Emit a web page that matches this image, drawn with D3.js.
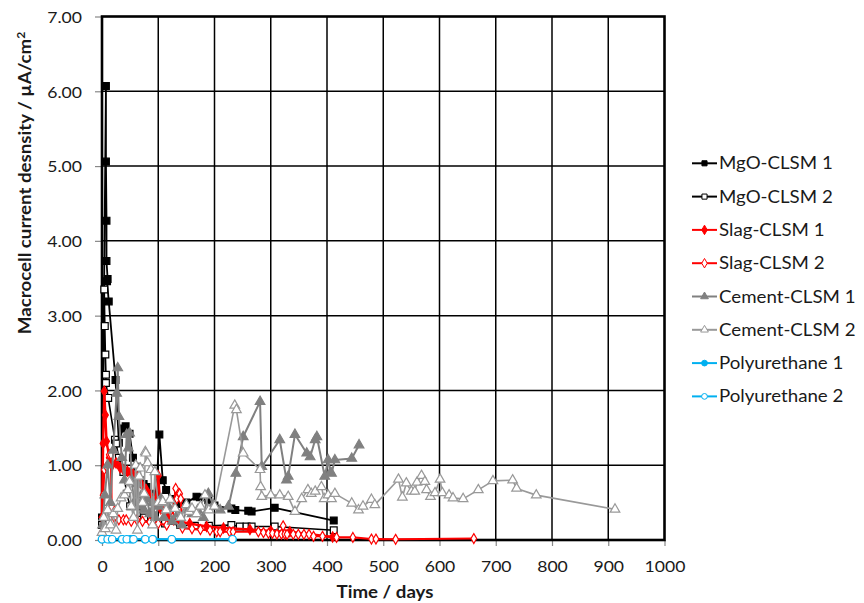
<!DOCTYPE html>
<html><head><meta charset="utf-8">
<script src="https://cdn.jsdelivr.net/npm/d3@7"></script>
<style>
body{margin:0;background:#fff}
svg{display:block}
text{font-family:Lato,"Open Sans",sans-serif;fill:#1a1a1a}
</style>
</head><body>
<svg id="chart" width="864" height="603"></svg>
<script>
// ---------- data (day, current density µA/cm²) ----------
const xTicks = [0,100,200,300,400,500,600,700,800,900,1000];
const yTicks = [0,1,2,3,4,5,6,7];
const seriesNames = ["MgO-CLSM 1","MgO-CLSM 2","Slag-CLSM 1","Slag-CLSM 2","Cement-CLSM 1","Cement-CLSM 2","Polyurethane 1","Polyurethane 2"];

const mgo1 = [[0,0.3],[7,6.07],[7,5.06],[8,4.27],[8,3.73],[10,3.49],[9,3.46],[12,3.19],[24,2.14],[30,1.3],[37,1.49],[42,1.52],[49,1.42],[55,1.1],[62,0.98],[67,0.8],[74,0.75],[79,0.71],[88,0.62],[96,0.6],[102,1.41],[108,0.8],[114,0.67],[125,0.55],[134,0.48],[150,0.5],[168,0.58],[174,0.57],[189,0.53],[200,0.46],[230,0.42],[237,0.4],[260,0.39],[266,0.38],[307,0.43],[412,0.26]];
const mgo2 = [[0,0.2],[4,3.35],[5,2.86],[6,2.48],[7,2.21],[7,2.1],[11,1.9],[23,1.34],[25,1.29],[30,1.1],[38,0.91],[44,0.62],[50,0.45],[62,0.36],[75,0.3],[90,0.25],[112,0.22],[139,0.2],[165,0.19],[190,0.19],[230,0.2],[245,0.18],[257,0.18],[266,0.18],[307,0.18],[412,0.13]];
const slag1 = [[0,0.3],[2,1.29],[4,1.99],[6,1.67],[8,1.32],[13,1.1],[18,1.0],[25,1.03],[32,0.97],[38,0.94],[45,0.92],[50,0.9],[55,0.88],[62,0.85],[65,0.8],[70,0.75],[75,0.7],[79,0.67],[85,0.6],[90,0.55],[95,0.5],[100,0.86],[104,0.42],[110,0.38],[115,0.35],[120,0.3],[127,0.27],[140,0.24],[156,0.22],[186,0.18],[216,0.16],[263,0.14],[300,0.12],[334,0.11],[410,0.04]];
const slag2 = [[0,0.1],[2,0.6],[4,0.94],[8,0.98],[13,1.14],[16,1.14],[17,0.45],[22,0.3],[30,0.27],[38,0.27],[43,0.27],[52,0.25],[62,0.27],[72,0.25],[85,0.24],[100,0.22],[115,0.2],[125,0.3],[131,0.69],[133,0.55],[138,0.62],[140,0.55],[143,0.16],[160,0.15],[175,0.14],[192,0.13],[204,0.11],[210,0.11],[227,0.11],[233,0.11],[278,0.11],[287,0.1],[296,0.09],[303,0.09],[311,0.08],[319,0.08],[322,0.19],[325,0.08],[329,0.076],[340,0.076],[349,0.076],[359,0.076],[368,0.076],[376,0.05],[392,0.05],[417,0.035],[446,0.035],[479,0.013],[487,0.013],[522,0.01],[661,0.02]];
const cement1 = [[1,0.2],[5,0.6],[10,1.0],[15,0.5],[20,1.2],[26,1.96],[28,2.3],[30,1.65],[35,1.1],[40,0.8],[44,1.41],[47,1.23],[49,1.43],[53,0.8],[57,0.5],[62,0.75],[66,0.45],[70,0.6],[75,0.4],[80,0.55],[85,0.35],[90,0.5],[95,0.3],[100,0.45],[105,0.55],[110,0.3],[118,0.45],[125,0.25],[135,0.35],[142,0.2],[150,0.4],[160,0.35],[170,0.4],[180,0.3],[189,0.62],[198,0.47],[210,0.4],[225,0.45],[238,0.89],[251,1.38],[281,1.85],[284,0.98],[316,1.34],[328,0.8],[331,0.85],[343,1.41],[364,1.16],[370,1.11],[379,1.34],[382,1.38],[396,0.85],[402,1.07],[406,0.9],[408,0.89],[414,1.07],[444,1.09],[457,1.27]];
const cement2 = [[0,0.1],[3,0.3],[6,0.15],[10,0.4],[15,0.2],[20,0.35],[25,0.13],[28,0.42],[34,0.56],[40,0.6],[46,0.67],[49,0.78],[52,0.45],[56,0.3],[60,1.0],[63,0.13],[66,0.85],[68,0.96],[72,0.5],[75,0.62],[77,1.18],[78,1.16],[81,1.03],[87,0.94],[90,0.2],[94,0.91],[100,0.5],[108,0.51],[114,0.4],[121,0.54],[130,0.42],[140,0.3],[150,0.47],[155,0.38],[160,0.42],[168,0.35],[175,0.45],[183,0.6],[190,0.4],[200,0.45],[236,1.8],[239,1.74],[251,1.16],[281,0.94],[282,0.71],[284,0.58],[300,0.6],[316,0.6],[331,0.58],[343,0.38],[355,0.55],[366,0.67],[372,0.62],[379,0.65],[390,0.71],[395,0.55],[402,0.6],[408,0.55],[414,0.62],[444,0.49],[456,0.4],[464,0.45],[479,0.54],[485,0.47],[527,0.81],[534,0.57],[541,0.76],[550,0.65],[556,0.65],[560,0.77],[568,0.86],[574,0.78],[577,0.67],[584,0.58],[592,0.63],[601,0.81],[605,0.63],[617,0.6],[624,0.56],[642,0.55],[669,0.67],[695,0.79],[730,0.8],[737,0.69],[772,0.6],[912,0.41]];
const pu1 = [[0,0.01],[14,0.01],[35,0.01],[50,0.01],[54,0.01],[76,0.01],[91,0.01],[124,0.01],[232,0.01]];
const pu2 = [[0,0.01],[10,0.01],[18,0.01],[36,0.01],[44,0.01],[56,0.01],[77,0.01],[90,0.01],[124,0.01],[232,0.01]];

// ---------- layout ----------
const SX = 1.1; // horizontal text stretch
const svg = d3.select("#chart");
const x = d3.scaleLinear().domain([0,1000]).range([102,664.5]);
const y = d3.scaleLinear().domain([0,7]).range([540,16.5]);

// gridlines
svg.append("g").selectAll("line.h").data(yTicks.slice(1,-1)).join("line")
  .attr("x1",x(0)).attr("x2",x(1000)).attr("y1",d=>y(d)).attr("y2",d=>y(d))
  .attr("stroke","#000").attr("stroke-width",1.5);
svg.append("g").selectAll("line.v").data(xTicks.slice(1,-1)).join("line")
  .attr("y1",y(0)).attr("y2",y(7)).attr("x1",d=>x(d)).attr("x2",d=>x(d))
  .attr("stroke","#000").attr("stroke-width",1.5);

// axes (ticks + labels)
const yAxis = svg.append("g").attr("transform",`translate(${x(0)},0)`)
  .call(d3.axisLeft(y).tickValues(yTicks).tickFormat(d3.format(".2f")).tickSize(7));
yAxis.select(".domain").remove();
yAxis.selectAll("line").attr("stroke","#888").attr("stroke-width",1.2);
yAxis.selectAll("text").attr("font-size",16).attr("font-family","Lato").attr("fill","#1a1a1a")
  .attr("x",-20/SX).attr("dy","0.36em").attr("transform",`scale(${SX},1)`);

const xAxis = svg.append("g").attr("transform",`translate(0,${y(0)})`)
  .call(d3.axisBottom(x).tickValues(xTicks).tickFormat(d3.format("d")).tickSize(6));
xAxis.select(".domain").remove();
xAxis.selectAll("line").attr("stroke","#888").attr("stroke-width",1.2);
xAxis.selectAll("text").attr("font-size",16).attr("font-family","Lato").attr("fill","#1a1a1a")
  .attr("y",32).attr("dy",0).attr("transform",`scale(${SX},1)`);

// frame
svg.append("rect").attr("x",x(0)).attr("y",y(7)).attr("width",x(1000)-x(0)).attr("height",y(0)-y(7))
  .attr("fill","none").attr("stroke","#000").attr("stroke-width",2.6);

// ---------- series ----------
const styles = [
  {data:mgo1, color:"#000", fill:"#000", sym:d3.symbolSquare, size:46, lw:1.8},
  {data:mgo2, color:"#000", fill:"#fff", sym:d3.symbolSquare, size:46, lw:1.6},
  {data:slag1, color:"#ff0000", fill:"#ff0000", sym:d3.symbolDiamond, size:30, lw:2.4},
  {data:slag2, color:"#ff0000", fill:"#fff", sym:d3.symbolDiamond, size:28, lw:2.2},
  {data:cement1, color:"#808080", fill:"#808080", sym:d3.symbolTriangle, size:40, lw:2},
  {data:cement2, color:"#999999", fill:"#fff", sym:d3.symbolTriangle, size:40, lw:1.6},
  {data:pu1, color:"#00b0f0", fill:"#00b0f0", sym:d3.symbolCircle, size:40, lw:2},
  {data:pu2, color:"#00b0f0", fill:"#fff", sym:d3.symbolCircle, size:44, lw:1.6}
];
const line = d3.line().x(d=>x(d[0])).y(d=>y(d[1]));
styles.forEach(s=>{
  const g = svg.append("g");
  g.append("path").attr("d",line(s.data)).attr("fill","none")
    .attr("stroke",s.color).attr("stroke-width",s.lw).attr("stroke-linejoin","round");
  g.selectAll("path.m").data(s.data).join("path").attr("class","m")
    .attr("d",d3.symbol().type(s.sym).size(s.size)())
    .attr("transform",d=>`translate(${x(d[0])},${y(d[1])})`)
    .attr("fill",s.fill).attr("stroke",s.color).attr("stroke-width",1.2);
});

// ---------- legend ----------
const lg = svg.append("g");
styles.forEach((s,i)=>{
  const cy = 163.3 + i*33.3;
  lg.append("line").attr("x1",692).attr("x2",717).attr("y1",cy).attr("y2",cy)
    .attr("stroke",s.color).attr("stroke-width",2);
  lg.append("path").attr("d",d3.symbol().type(s.sym).size(26)())
    .attr("transform",`translate(704.5,${cy})`)
    .attr("fill",s.fill).attr("stroke",s.color).attr("stroke-width",1);
  lg.append("text").attr("transform",`translate(719,${cy+6}) scale(${SX},1)`)
    .attr("font-size",17).text(seriesNames[i]);
});

// ---------- titles ----------
svg.append("text").attr("transform",`translate(385,598) scale(${SX},1)`)
  .attr("text-anchor","middle").attr("font-weight","bold").attr("font-size",17).text("Time / days");
svg.append("text").attr("transform",`translate(31,183) rotate(-90) scale(${SX},1)`)
  .attr("text-anchor","middle").attr("font-weight","bold").attr("font-size",17)
  .html('Macrocell current desnsity / µA/cm<tspan dy="-6" font-size="11">2</tspan>');
</script>
</body></html>
